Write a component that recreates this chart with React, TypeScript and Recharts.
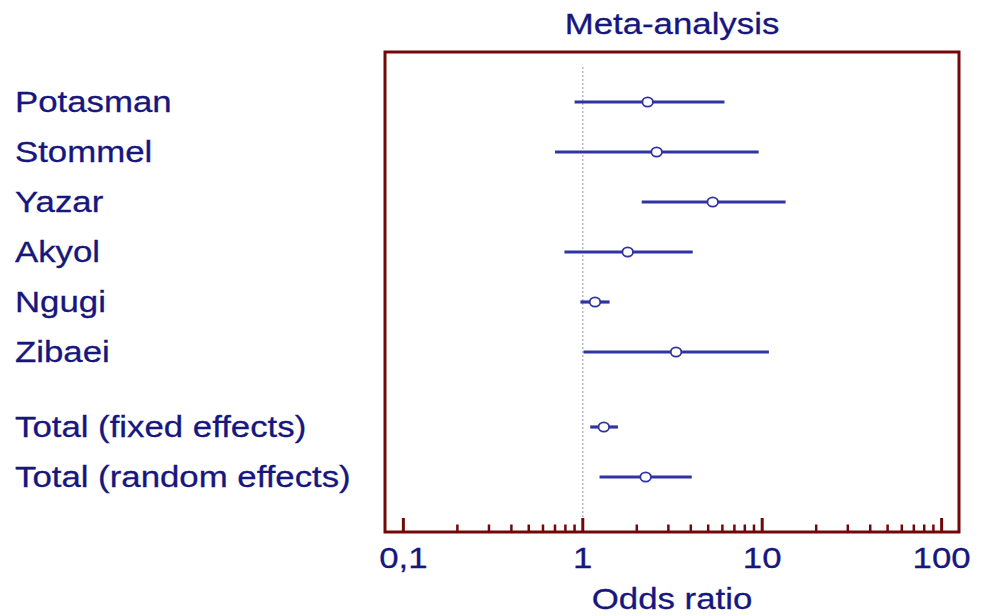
import { ErrorBar, ReferenceArea, ReferenceLine, Scatter, ScatterChart, XAxis, YAxis } from "recharts";

const studies = [
  "Potasman",
  "Stommel",
  "Yazar",
  "Akyol",
  "Ngugi",
  "Zibaei",
  "Total (fixed effects)",
  "Total (random effects)",
];
// row index on the plot (gap before the two totals)
const rowPositions = [0, 1, 2, 3, 4, 5, 6.5, 7.5];
const oddsRatios = [2.3, 2.58, 5.3, 1.78, 1.17, 3.31, 1.31, 2.24];
const lowerCI = [0.9, 0.7, 2.13, 0.79, 0.97, 1.01, 1.1, 1.24];
const upperCI = [6.16, 9.56, 13.5, 4.1, 1.41, 10.9, 1.57, 4.05];

const majorTicks = [0.1, 1, 10, 100];
const majorTickLabels = ["0,1", "1", "10", "100"];
const minorTicks = [
  0.2, 0.3, 0.4, 0.5, 0.6, 0.7, 0.8, 0.9,
  2, 3, 4, 5, 6, 7, 8, 9,
  20, 30, 40, 50, 60, 70, 80, 90,
];

const X_DOMAIN = [0.079, 125];
const Y_DOMAIN = [-1, 8.6];

const FRAME = "#720808";
const TEXT = "#16167e";
const LINE = "#3034a0";
const FONT = "'Liberation Sans', Arial, sans-serif";
const STRETCH = 1.16;

const rows = studies.map((name, i) => ({
  name,
  row: rowPositions[i],
  or: oddsRatios[i],
  err: [oddsRatios[i] - lowerCI[i], upperCI[i] - oddsRatios[i]],
}));

function StretchText({ x, y, anchor = "start", children }: any) {
  return (
    <text
      transform={`translate(${x},${y}) scale(${STRETCH},1)`}
      textAnchor={anchor}
      fontFamily={FONT}
      fontSize={30}
      fill={TEXT}
      stroke={TEXT}
      strokeWidth={0.3}
    >
      {children}
    </text>
  );
}

function OddsTick({ x, y, payload }: any) {
  const idx = majorTicks.indexOf(payload.value);
  const major = idx >= 0;
  return (
    <g>
      <line
        x1={x}
        x2={x}
        y1={y}
        y2={y - (major ? 14 : 7.5)}
        stroke={FRAME}
        strokeWidth={major ? 3 : 2.5}
      />
      {major && (
        <StretchText x={x} y={y + 36} anchor="middle">
          {majorTickLabels[idx]}
        </StretchText>
      )}
    </g>
  );
}

function StudyTick({ y, payload }: any) {
  const i = rowPositions.indexOf(payload.value);
  return (
    <StretchText x={15} y={y + 10}>
      {studies[i]}
    </StretchText>
  );
}

function TitleLabel({ viewBox }: any) {
  if (!viewBox) return null;
  return (
    <StretchText x={viewBox.x + viewBox.width / 2} y={viewBox.y - 18} anchor="middle">
      Meta-analysis
    </StretchText>
  );
}

function AxisTitle({ viewBox }: any) {
  if (!viewBox) return null;
  return (
    <StretchText x={viewBox.x + viewBox.width / 2} y={viewBox.y + 77} anchor="middle">
      Odds ratio
    </StretchText>
  );
}

function Marker({ cx, cy }: any) {
  return <ellipse cx={cx} cy={cy} rx={5.3} ry={4.7} fill="#ffffff" stroke={LINE} strokeWidth={1.8} />;
}

export default function App() {
  return (
    <div style={{ position: "absolute", left: 0, top: 0, background: "#fff" }}>
      <ScatterChart width={985} height={616} margin={{ top: 52, right: 26, bottom: 0, left: 0 }}>
        <XAxis
          type="number"
          dataKey="or"
          scale="log"
          domain={X_DOMAIN}
          allowDataOverflow
          ticks={[...majorTicks, ...minorTicks]}
          interval={0}
          tick={<OddsTick />}
          tickLine={false}
          axisLine={false}
          tickSize={0}
          tickMargin={0}
          height={84}
          label={<AxisTitle />}
        />
        <YAxis
          type="number"
          dataKey="row"
          reversed
          domain={Y_DOMAIN}
          allowDataOverflow
          ticks={rowPositions}
          interval={0}
          tick={<StudyTick />}
          tickLine={false}
          axisLine={false}
          width={385}
        />
        <ReferenceLine
          segment={[
            { x: 1, y: -0.7 },
            { x: 1, y: Y_DOMAIN[1] },
          ]}
          stroke="#b4b6dc"
          strokeWidth={1.5}
          strokeDasharray="2 2"
        />
        <ReferenceArea
          x1={X_DOMAIN[0]}
          x2={X_DOMAIN[1]}
          y1={Y_DOMAIN[0]}
          y2={Y_DOMAIN[1]}
          fill="none"
          stroke={FRAME}
          strokeWidth={3}
          label={<TitleLabel />}
        />
        <Scatter data={rows} shape={() => <g />} isAnimationActive={false}>
          <ErrorBar dataKey="err" direction="x" width={0} stroke={LINE} strokeWidth={3.2} />
        </Scatter>
        <Scatter data={rows} shape={<Marker />} isAnimationActive={false} />
      </ScatterChart>
    </div>
  );
}
